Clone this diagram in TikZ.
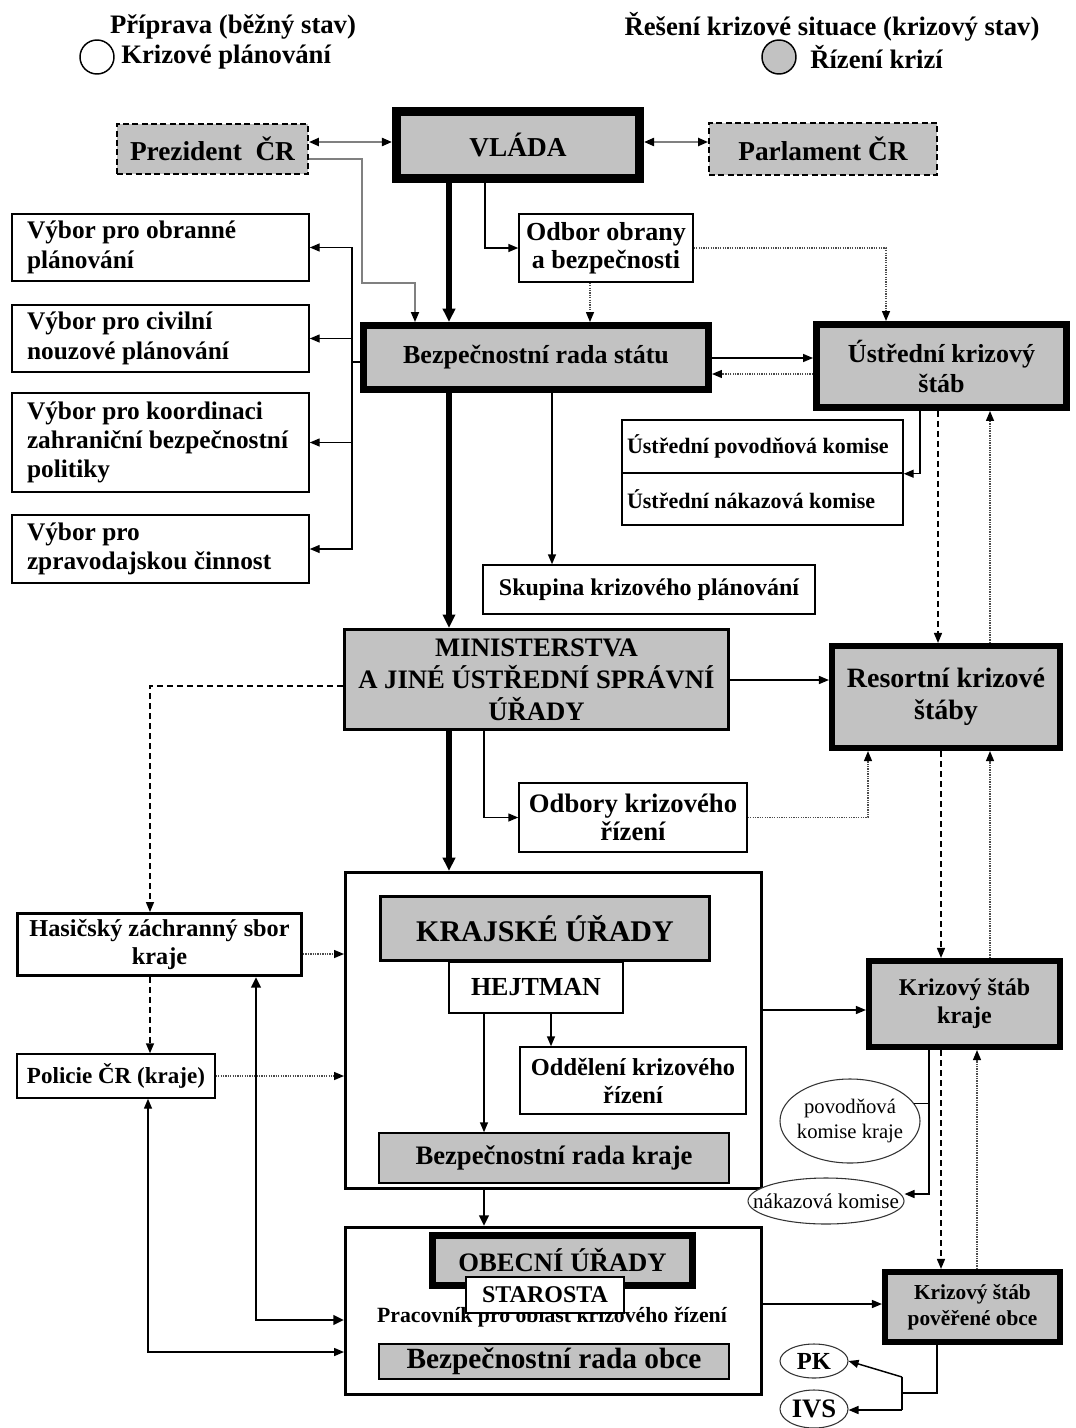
\documentclass[tikz,border=0pt]{standalone}
\usepackage{fontspec}
\setmainfont{Liberation Serif}
\usetikzlibrary{arrows.meta,shapes.geometric}
\definecolor{boxgrey}{gray}{0.76}
\newcommand\fs[2]{\fontsize{#1}{#2}\selectfont\bfseries}
\newcommand\fr[2]{\fontsize{#1}{#2}\selectfont}
\def\u{0.75pt}
\begin{document}
\begin{tikzpicture}[x=0.75pt,y=-0.75pt,
  every node/.style={inner sep=0pt, align=center},
  plain/.style={draw, line width=1.1pt, fill=white},
  greybox/.style={draw, line width=1.1pt, fill=boxgrey},
  heavy/.style={draw, line width=5.2pt, fill=boxgrey},
  dashbox/.style={draw, line width=1.4pt, fill=boxgrey, dash pattern=on 4.5pt off 2.5pt},
  oval/.style={ellipse, draw=black!80, line width=0.8pt, fill=white},
  conn/.style={line width=1.1pt},
  arr/.style={conn, -{Triangle[length=7.5pt,width=6pt]}},
  twoway/.style={conn, {Triangle[length=7.5pt,width=6pt]}-{Triangle[length=7.5pt,width=6pt]}},
  greyarr/.style={line width=1.3pt, draw=black!50, -{Triangle[length=7.5pt,width=6pt,color=black]}},
  greytwoway/.style={line width=1.6pt, draw=black!50, {Triangle[length=7.5pt,width=6pt,color=black]}-{Triangle[length=7.5pt,width=6pt,color=black]}},
  bigarr/.style={line width=3.8pt, -{Triangle[length=10pt,width=9pt]}},
  midarr/.style={line width=2.2pt, -{Triangle[length=8pt,width=7pt]}},
  midtwoway/.style={line width=2.2pt, {Triangle[length=8pt,width=7pt]}-{Triangle[length=8pt,width=7pt]}},
  dotarr/.style={line width=1pt, draw=black!70, dash pattern=on 1pt off 0.8pt, -{Triangle[length=7.5pt,width=6pt,color=black]}},
  dasharr/.style={line width=1.1pt, dash pattern=on 4.5pt off 3pt, -{Triangle[length=7.5pt,width=6pt]}},
  committee/.style={plain, minimum width=297*\u, text width=267*\u, inner xsep=15*\u, align=flush left, font=\fs{19}{22}}
]
\useasboundingbox (0,0) rectangle (1075,1428);

% ---- legend ----
\node[font=\fs{20}{24}] (prep) at (233,27) {Příprava (běžný stav)};
\node[circle, draw, line width=1.1pt, fill=white, minimum size=34*\u] (markplan) at (97,57) {};
\node[font=\fs{20}{24}, anchor=west] (plan) at (121,57) {Krizové plánování};
\node[font=\fs{20}{24}] (crisis) at (832,27) {Řešení krizové situace (krizový stav)};
\node[circle, draw, line width=1.1pt, fill=boxgrey, minimum size=34*\u] (markcris) at (779,57) {};
\node[font=\fs{20}{24}, anchor=west] (manage) at (810,57) {Řízení krizí};

% ---- top level ----
\node[dashbox, minimum width=191*\u, minimum height=50*\u, font=\fs{20.5}{24}] (prez) at (212.5,149) {Prezident\ \ ČR};
\node[draw, line width=6.8pt, fill=boxgrey, minimum width=243*\u, minimum height=67*\u, font=\fs{20.5}{24}] (vlada) at (518,145) {VLÁDA};
\node[dashbox, minimum width=228*\u, minimum height=52*\u, font=\fs{20.5}{24}] (parl) at (823,149) {Parlament ČR};

\node[plain, minimum width=174*\u, minimum height=68*\u, font=\fs{19.5}{21}] (odbor) at (606,248) {Odbor obrany\\a bezpečnosti};

% ---- committees ----
\node[committee, minimum height=67*\u] (v1) at (160.5,247.5) {Výbor pro obranné\\plánování};
\node[committee, minimum height=67*\u] (v2) at (160.5,338.5) {Výbor pro civilní\\nouzové plánování};
\node[committee, minimum height=99*\u] (v3) at (160.5,442.5) {Výbor pro koordinaci\\zahraniční bezpečnostní\\politiky};
\node[committee, minimum height=68*\u] (v4) at (160.5,549) {Výbor pro\\zpravodajskou činnost};

\node[heavy, minimum width=345*\u, minimum height=64*\u, font=\fs{19.5}{22}] (bzs) at (536,357.5) {Bezpečnostní rada státu};
\node[heavy, minimum width=250*\u, minimum height=83*\u, font=\fs{19.5}{22.5}] (ust) at (941.5,366) {Ústřední krizový\\štáb};

\node[plain, minimum width=281*\u, minimum height=53*\u, text width=271*\u, inner xsep=5*\u, align=flush left, font=\fs{16.5}{19}] (upk) at (762.5,446.5) {Ústřední povodňová komise};
\node[plain, minimum width=281*\u, minimum height=52*\u, text width=271*\u, inner xsep=5*\u, align=flush left, font=\fs{16.5}{19}] (unk) at (762.5,499) {Ústřední nákazová komise};

\node[plain, minimum width=332*\u, minimum height=49*\u, font=\fs{18}{21}] (sk) at (649,589.5) {Skupina krizového plánování};

% ---- ministries ----
\node[greybox, line width=2.4pt, minimum width=384*\u, minimum height=100*\u, font=\fs{20}{24}] (min) at (536.5,679.5) {MINISTERSTVA\\A JINÉ ÚSTŘEDNÍ SPRÁVNÍ\\ÚŘADY};
\node[heavy, line width=4.6pt, minimum width=228*\u, minimum height=102*\u, font=\fs{21}{24}] (res) at (946,697) {Resortní krizové\\štáby};
\node[plain, minimum width=228*\u, minimum height=69*\u, font=\fs{20}{21.5}] (odk) at (633,817.5) {Odbory krizového\\řízení};

% ---- regions ----
\node[plain, line width=2.2pt, minimum width=416*\u, minimum height=316*\u] (kraj) at (553.5,1030.5) {};
\node[greybox, line width=2.4pt, minimum width=329*\u, minimum height=64*\u, font=\fs{22.5}{26}] (ku) at (545,928.5) {KRAJSKÉ ÚŘADY};
\node[plain, minimum width=174*\u, minimum height=51*\u, font=\fs{19.5}{22}] (hej) at (536,987.5) {HEJTMAN};
\node[plain, minimum width=226*\u, minimum height=67*\u, font=\fs{18.3}{21}] (odd) at (633,1080.5) {Oddělení krizového\\řízení};
\node[greybox, minimum width=350*\u, minimum height=50*\u, font=\fs{20}{22}] (brk) at (554,1158) {Bezpečnostní rada kraje};

\node[plain, line width=2.2pt, minimum width=284*\u, minimum height=62*\u, font=\fs{18.2}{21}] (hzs) at (159.5,944.5) {Hasičský záchranný sbor\\kraje};
\node[plain, minimum width=198*\u, minimum height=44*\u, font=\fs{17.3}{20}] (pol) at (116,1076) {Policie ČR (kraje)};

\node[heavy, line width=4.6pt, minimum width=191*\u, minimum height=86*\u, font=\fs{18}{21}] (ksk) at (964.5,1004) {Krizový štáb\\kraje};
\node[oval, minimum width=140*\u, minimum height=84*\u,
      label={[font=\fr{15.5}{18.5}, align=center]center:povodňová\\komise kraje}] (pov) at (850,1121) {};
\node[oval, minimum width=156*\u, minimum height=46*\u,
      label={[font=\fr{15.8}{18}]center:nákazová komise}] (nak) at (826,1201) {};

% ---- municipalities ----
\node[plain, line width=2.2pt, minimum width=416*\u, minimum height=167*\u] (obec) at (553.5,1311) {};
\node[heavy, minimum width=260*\u, minimum height=50*\u, font=\fs{20}{22}] (ou) at (562.5,1260.5) {OBECNÍ ÚŘADY};
\node[font=\fs{16.3}{18}] (prac) at (552,1317) {Pracovník pro oblast krizového řízení};
\node[plain, minimum width=158*\u, minimum height=36*\u, font=\fs{18}{20}] (star) at (545,1295) {STAROSTA};
\node[greybox, minimum width=350*\u, minimum height=35*\u, font=\fs{22}{24}] (bro) at (554,1361.5) {Bezpečnostní rada obce};

\node[heavy, line width=4.6pt, minimum width=175*\u, minimum height=70*\u, font=\fs{16}{19.5}] (kpo) at (972.5,1307) {Krizový štáb\\pověřené obce};
\node[oval, minimum width=68*\u, minimum height=34*\u, font=\fs{18.4}{20}] (pk) at (814,1361) {PK};
\node[oval, minimum width=68*\u, minimum height=38*\u, font=\fs{20}{22}] (ivs) at (814,1409) {IVS};

% ---- connectors ----
\draw[greytwoway] (prez.east |- 0,142) -- (vlada.west |- 0,142);
\draw[greytwoway] (vlada.east |- 0,142) -- (parl.west |- 0,142);
\draw[greyarr] (prez.east |- 0,159) -| (362,283) -| (bzs.north -| 415,0);
\draw[bigarr] (vlada.south -| 449,0) -- (bzs.north -| 449,0);
\draw[arr] (vlada.south -| 485,0) |- (odbor.west);
\draw[dotarr] (odbor.south -| 590,0) -- (bzs.north -| 590,0);
\draw[dotarr] (odbor.east) -| (ust.north -| 886,0);
\draw[arr] (bzs.east |- 0,358) -- (ust.west |- 0,358);
\draw[dotarr] (ust.west |- 0,374) -- (bzs.east |- 0,374);

\coordinate (bus) at (352,362);
\draw[conn] (bzs.west |- bus) -- (bus);
\draw[arr] (bus) |- (v1.east);
\draw[arr] (bus) |- (v2.east);
\draw[arr] (bus) |- (v3.east);
\draw[arr] (bus) |- (v4.east);

\draw[bigarr] (bzs.south -| 449,0) -- (min.north -| 449,0);
\draw[arr] (bzs.south -| 552,0) -- (sk.north -| 552,0);
\draw[arr] (ust.south -| 920,0) |- (upk.south east);
\draw[dasharr] (ust.south -| 938,0) -- (res.north -| 938,0);
\draw[dotarr] (res.north -| 990,0) -- (ust.south -| 990,0);

\draw[arr] (min.east |- 0,680) -- (res.west |- 0,680);
\draw[dasharr] (min.west |- 0,686) -| (hzs.north -| 150,0);
\draw[bigarr] (min.south -| 449,0) -- (kraj.north -| 449,0);
\draw[arr] (min.south -| 484,0) |- (odk.west);
\draw[dotarr] (odk.east) -| (res.south -| 868,0);
\draw[dasharr] (res.south -| 941,0) -- (ksk.north -| 941,0);
\draw[dotarr] (ksk.north -| 990,0) -- (res.south -| 990,0);

\draw[dotarr] (hzs.east |- 0,954) -- (kraj.west |- 0,954);
\draw[dasharr] (hzs.south -| 150,0) -- (pol.north -| 150,0);
\draw[dotarr] (pol.east) -- (kraj.west |- pol.east);
\draw[midtwoway] (hzs.south -| 256,0) |- (obec.west |- 0,1320);
\draw[twoway] (pol.south -| 148,0) |- (obec.west |- 0,1352);

\draw[arr] (kraj.east |- 0,1010) -- (ksk.west |- 0,1010);
\draw[arr] (hej.south -| 551,0) -- (odd.north -| 551,0);
\draw[arr] (hej.south -| 484,0) -- (brk.north -| 484,0);
\draw[midarr] (kraj.south -| 484,0) -- (obec.north -| 484,0);

\draw[arr] (ksk.south -| 929,0) |- (nak.east |- 0,1194);
\draw[conn] (pov.15) -- (pov.15 -| 929,0);
\draw[dasharr] (ksk.south -| 941,0) -- (kpo.north -| 941,0);
\draw[dotarr] (kpo.north -| 977,0) -- (ksk.south -| 977,0);
\draw[arr] (obec.east |- 0,1304) -- (kpo.west |- 0,1304);

\coordinate (forkup) at (902,1377);
\coordinate (forkdown) at (902,1410);
\draw[conn] (kpo.south -| 937,0) |- (902,1393);
\draw[conn] (forkup) -- (forkdown);
\draw[arr] (forkup) -- (pk.east);
\draw[arr] (forkdown) -- (ivs.east |- forkdown);
\end{tikzpicture}
\end{document}
